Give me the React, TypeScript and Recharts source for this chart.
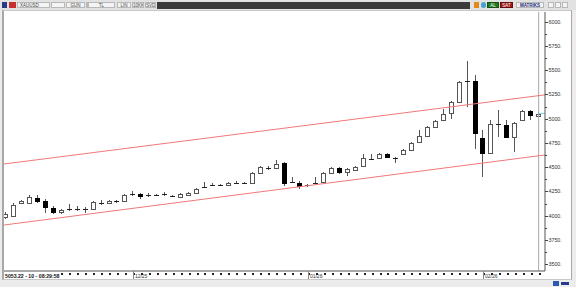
import { ComposedChart, Bar, XAxis, YAxis, ReferenceLine } from "recharts";

// daily XAUUSD candles
const opens = [3985, 3996, 4130, 4130, 4182, 4151, 4078, 4037, 4068, 4068, 4070, 4068, 4130, 4130, 4148, 4151, 4223, 4223, 4213, 4213, 4225, 4202, 4192, 4213, 4233, 4295, 4316, 4316, 4316, 4337, 4337, 4337, 4440, 4492, 4492, 4543, 4347, 4337, 4306, 4337, 4347, 4440, 4492, 4450, 4471, 4512, 4586, 4595, 4636, 4595, 4636, 4678, 4760, 4822, 4915, 4988, 5060, 5173, 5390, 5390, 4801, 4647, 4946, 4936, 4812, 4987, 5080, 5029];
const highs = [4037, 4130, 4161, 4213, 4213, 4171, 4099, 4068, 4120, 4099, 4089, 4151, 4161, 4161, 4161, 4223, 4254, 4233, 4233, 4223, 4244, 4213, 4233, 4244, 4285, 4347, 4337, 4330, 4347, 4357, 4347, 4450, 4512, 4512, 4574, 4554, 4399, 4357, 4326, 4399, 4450, 4502, 4502, 4492, 4512, 4636, 4636, 4646, 4646, 4605, 4688, 4760, 4884, 4925, 4987, 5101, 5183, 5390, 5597, 5452, 4884, 4987, 5091, 4987, 4966, 5091, 5091, 5070];
const lows = [3965, 3985, 4120, 4120, 4130, 4027, 4016, 4016, 4047, 4047, 4027, 4058, 4109, 4120, 4130, 4140, 4202, 4171, 4192, 4202, 4202, 4192, 4182, 4202, 4223, 4285, 4306, 4306, 4306, 4326, 4326, 4326, 4430, 4471, 4481, 4306, 4337, 4275, 4295, 4326, 4337, 4430, 4430, 4409, 4460, 4502, 4574, 4585, 4595, 4543, 4626, 4667, 4750, 4812, 4905, 4987, 4998, 5163, 5122, 4688, 4399, 4636, 4812, 4801, 4657, 4977, 4987, 5018];
const closes = [4016, 4109, 4151, 4192, 4151, 4089, 4037, 4058, 4072, 4065, 4062, 4140, 4133, 4151, 4152, 4213, 4226, 4202, 4212, 4215, 4220, 4204, 4223, 4233, 4275, 4296, 4318, 4317, 4337, 4336, 4338, 4440, 4502, 4488, 4533, 4337, 4345, 4306, 4316, 4340, 4440, 4492, 4450, 4481, 4502, 4595, 4582, 4636, 4605, 4590, 4678, 4750, 4822, 4915, 4977, 5049, 5173, 5380, 5393, 4853, 4647, 4946, 4943, 4812, 4956, 5080, 5039, 5053];

const upperChannel = [4533, 5246];
const lowerChannel = [3904, 4626];
const lastPrice = 5053.22;

const majorTicks = [3500, 3750, 4000, 4250, 4500, 4750, 5000, 5250, 5500, 5750, 6000];
const minorTicks = [3625, 3875, 4125, 4375, 4625, 4875, 5125, 5375, 5625, 5875];
const monthLabels = ["12/25", "01/26", "02/26"];
const monthStarts = [16, 38, 60];

const candles = opens.map((o, i) => ({
  i,
  open: o,
  high: highs[i],
  low: lows[i],
  close: closes[i],
  range: [lows[i], highs[i]],
}));

function Candle(props: any) {
  const { x, y, width, height, payload } = props;
  const { open, close, high, low } = payload;
  const k = height / (high - low || 1);
  const py = (v: number) => y + (high - v) * k;
  const c = Math.round(x + width / 2);
  const top = py(Math.max(open, close));
  const bot = py(Math.min(open, close));
  const up = close >= open;
  const doji = bot - top < 1.5;
  return (
    <g shapeRendering="crispEdges">
      <line x1={c + 0.5} x2={c + 0.5} y1={py(high)} y2={py(low)} stroke="#555" />
      {doji ? (
        <line x1={c - 2} x2={c + 3} y1={Math.round(top) + 0.5} y2={Math.round(top) + 0.5} stroke="#222" />
      ) : (
        <rect
          x={c - 1.5}
          y={Math.round(top) + 0.5}
          width={4}
          height={Math.max(1, Math.round(bot - top))}
          fill={up ? "#fff" : "#000"}
          stroke={up ? "#555" : "#000"}
        />
      )}
    </g>
  );
}

function PriceTick({ x, y, payload }: any) {
  const major = majorTicks.includes(payload.value);
  return (
    <g shapeRendering="crispEdges">
      <line x1={x} x2={x + (major ? 3 : 2)} y1={Math.round(y) + 0.5} y2={Math.round(y) + 0.5} stroke="#444" />
      {major && (
        <text x={x + 3.5} y={y + 2} fontSize={5.3} fill="#333" fontFamily="Liberation Sans">
          {payload.value}.
        </text>
      )}
    </g>
  );
}

function TimeTick({ x, y, payload }: any) {
  const m = monthStarts.indexOf(payload.value);
  return (
    <g shapeRendering="crispEdges">
      <rect x={Math.round(x)} y={y + 2} width={1.5} height={1.5} fill="#222" />
      {m >= 0 && (
        <g>
          <line x1={Math.round(x) + 0.5} x2={Math.round(x) + 0.5} y1={y} y2={y + 8} stroke="#888" />
          <text x={x + 2} y={y + 7} fontSize={5} fill="#333" fontFamily="Liberation Sans">
            {monthLabels[m]}
          </text>
        </g>
      )}
    </g>
  );
}

const btn = (left: number, w: number, label: string, extra: any = {}) => (
  <div
    style={{
      position: "absolute",
      left,
      top: 2,
      width: w,
      height: 6,
      border: "1px solid #b8b8b8",
      background: "#f4f4f4",
      fontSize: 4.5,
      lineHeight: "6px",
      color: "#444",
      textAlign: "center",
      boxSizing: "border-box",
      overflow: "hidden",
      ...extra,
    }}
  >
    {label}
  </div>
);

export default function App() {
  return (
    <div
      style={{
        position: "absolute",
        left: 0,
        top: 0,
        width: 576,
        height: 287,
        background: "#ececec",
        fontFamily: "Liberation Sans",
        overflow: "hidden",
      }}
    >
      {/* toolbar */}
      <div style={{ position: "absolute", left: 0, top: 0, width: 576, height: 10, background: "#e2e2e2" }} />
      <div style={{ position: "absolute", left: 2, top: 2, width: 5, height: 6, background: "#2a3a8a" }} />
      <div style={{ position: "absolute", left: 9, top: 2, width: 7, height: 6, background: "#c83030" }} />
      {btn(17, 33, "XAUUSD", { textAlign: "left", paddingLeft: 2 })}
      {btn(51, 14, "")}
      {btn(66, 19, "GÜN")}
      {btn(86, 2, "")}
      {btn(88, 27, "TL")}
      {btn(117, 14, "LIN")}
      {btn(132, 12, "10KK")}
      {btn(145, 11, "SVD")}
      {btn(157, 0, "")}
      <div style={{ position: "absolute", left: 157, top: 2, width: 313, height: 7, background: "#3a3a3a" }} />
      <div style={{ position: "absolute", left: 474, top: 2, width: 5, height: 6, background: "#e08a1a" }} />
      <div style={{ position: "absolute", left: 481, top: 2, width: 5, height: 6, background: "#4aa0d0", borderRadius: 3 }} />
      {btn(487, 12, "AL", { background: "#1f7a1f", color: "#fff", border: "1px solid #145214" })}
      {btn(500, 13, "SAT", { background: "#a01818", color: "#fff", border: "1px solid #6a0c0c" })}
      {btn(516, 28, "MATRİKS", { color: "#1a2a7a", fontWeight: "bold" })}
      {btn(548, 6, "")}
      {btn(555, 6, "")}
      {btn(562, 6, "")}

      {/* chart frame */}
      <div
        style={{
          position: "absolute",
          left: 2,
          top: 10,
          width: 570,
          height: 270,
          background: "#fff",
          borderLeft: "2px solid #a8a8a8",
          borderRight: "1px solid #a8a8a8",
          borderTop: "1px solid #c8c8c8",
          borderBottom: "1px solid #c8c8c8",
          boxSizing: "border-box",
        }}
      />

      {/* status row */}
      <div style={{ position: "absolute", left: 553, top: 281, width: 6, height: 5, background: "#2a5ab0" }} />
      <div style={{ position: "absolute", left: 561, top: 282, width: 8, height: 3, background: "#2a3a8a" }} />

      <div style={{ position: "absolute", left: 0, top: 0 }}>
        <ComposedChart
          width={576}
          height={287}
          data={candles}
          margin={{ top: 12, right: 0, bottom: 6, left: 4 }}
        >
          <XAxis
            dataKey="i"
            type="number"
            domain={[-0.2, 67.8]}
            ticks={candles.map((d) => d.i)}
            interval={0}
            height={10}
            tickSize={0}
            tickMargin={0}
            tickLine={false}
            axisLine={{ stroke: "#555" }}
            tick={<TimeTick />}
            allowDataOverflow
          />
          <YAxis
            orientation="right"
            type="number"
            domain={[3430, 6100]}
            ticks={[...majorTicks, ...minorTicks].sort((a, b) => a - b)}
            interval={0}
            width={31}
            tickSize={0}
            tickMargin={0}
            tickLine={false}
            axisLine={{ stroke: "#555" }}
            tick={<PriceTick />}
            allowDataOverflow
          />
          <ReferenceLine x={67} stroke="#aaa" ifOverflow="visible" />
          <ReferenceLine
            segment={[
              { x: -0.2, y: upperChannel[0] },
              { x: 67.8, y: upperChannel[1] },
            ]}
            stroke="#f07878"
            strokeWidth={1}
            ifOverflow="visible"
          />
          <ReferenceLine
            segment={[
              { x: -0.2, y: lowerChannel[0] },
              { x: 67.8, y: lowerChannel[1] },
            ]}
            stroke="#f07878"
            strokeWidth={1}
            ifOverflow="visible"
          />
          <Bar dataKey="range" barSize={5} shape={<Candle />} isAnimationActive={false} />
          <ReferenceLine
            segment={[
              { x: 67, y: lastPrice },
              { x: 67.8, y: lastPrice },
            ]}
            stroke="#7fd6d6"
            ifOverflow="visible"
          />
        </ComposedChart>
      </div>

      <div
        style={{
          position: "absolute",
          left: 5,
          top: 273,
          fontSize: 5.2,
          fontWeight: "bold",
          color: "#111",
          whiteSpace: "nowrap",
          background: "#fff",
          lineHeight: "6px",
        }}
      >
        5053.22 - 10 - 08:29:58
      </div>
    </div>
  );
}
